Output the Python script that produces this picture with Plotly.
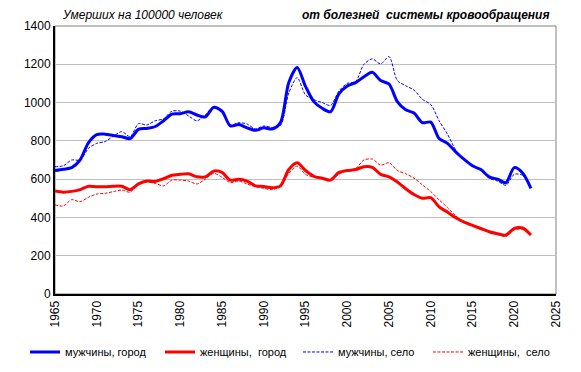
import plotly.graph_objects as go

years = list(range(1965, 2023))

men_city = [645, 652, 660, 700, 790, 833, 835, 828, 822, 812,
            860, 865, 875, 905, 940, 942, 952, 935, 925, 975,
            955, 878, 885, 868, 855, 868, 862, 895, 1105, 1183,
            1085, 1005, 970, 952, 1045, 1087, 1104, 1135, 1158, 1115,
            1097, 1005, 962, 945, 895, 898, 812, 787, 742, 703,
            670, 650, 612, 600, 582, 660, 632, 552]

women_city = [538, 532, 536, 545, 563, 560, 560, 563, 563, 545,
              575, 590, 588, 602, 620, 625, 628, 612, 612, 642,
              635, 595, 600, 590, 565, 562, 555, 565, 650, 685,
              645, 615, 605, 595, 635, 645, 650, 665, 662, 625,
              612, 585, 550, 520, 500, 503, 455, 428, 398, 375,
              358, 342, 325, 315, 308, 343, 345, 308]

men_rural = [665, 670, 700, 700, 760, 787, 796, 825, 848, 822,
             890, 883, 905, 915, 955, 955, 930, 905, 935, 978,
             945, 883, 895, 888, 862, 878, 870, 880, 1050, 1130,
             1040, 1015, 1000, 985, 1060, 1100, 1110, 1200, 1228, 1202,
             1240, 1115, 1088, 1065, 1017, 990, 905, 835, 752, 700,
             670, 645, 605, 590, 568, 625, 620, 555]

women_rural = [465, 460, 493, 482, 505, 522, 526, 535, 543, 532,
               580, 585, 578, 565, 595, 595, 590, 575, 600, 630,
               610, 582, 590, 575, 560, 552, 545, 565, 630, 668,
               625, 610, 603, 598, 625, 645, 655, 700, 705, 673,
               686, 645, 628, 605, 570, 535, 492, 452, 408, 375,
               358, 340, 322, 312, 300, 335, 338, 308]

x_ticks = list(range(1965, 2026, 5))
y_ticks = list(range(0, 1401, 200))

BLUE = "#0000FF"
RED = "#FF0000"
FONT = "Liberation Sans, Arial, sans-serif"
W, H = 573, 364

fig = go.Figure()
fig.add_trace(go.Scatter(x=years, y=men_city, name="мужчины, город", mode="lines", legend="legend",
                         line=dict(color=BLUE, width=3, shape="spline", smoothing=0.8)))
fig.add_trace(go.Scatter(x=years, y=women_city, name="женщины,  город", mode="lines", legend="legend2",
                         line=dict(color=RED, width=3, shape="spline", smoothing=0.8)))
fig.add_trace(go.Scatter(x=years, y=men_rural, name="мужчины, село", mode="lines", legend="legend3",
                         line=dict(color=BLUE, width=1, dash="3px,1.5px", shape="spline", smoothing=0.8)))
fig.add_trace(go.Scatter(x=years, y=women_rural, name="женщины,  село", mode="lines", legend="legend4",
                         line=dict(color=RED, width=1, dash="3px,1.5px", shape="spline", smoothing=0.8)))


def leg(px):
    return dict(orientation="h", xref="container", yref="container",
                x=px / W, xanchor="left", y=0.055, yanchor="middle",
                font=dict(size=11, color="black", family=FONT), itemwidth=30,
                bgcolor="rgba(0,0,0,0)")


fig.update_layout(
    width=W, height=H,
    margin=dict(l=47, r=25, t=18, b=78, autoexpand=False),
    paper_bgcolor="white", plot_bgcolor="white",
    font=dict(family=FONT, size=12, color="black"),
    showlegend=True,
    legend=leg(17), legend2=leg(152), legend3=leg(290), legend4=leg(420),
    shapes=[dict(type="rect", xref="paper", yref="paper", x0=0, x1=1, y0=0, y1=1,
                 line=dict(color="#808080", width=1), layer="below")],
    annotations=[
        dict(text="<i>Умерших на 100000 человек</i>", xref="paper", yref="paper",
             x=0.176, xanchor="center", y=1, yanchor="bottom", yshift=2, showarrow=False,
             font=dict(size=12, family=FONT)),
        dict(text="<b><i>от болезней  системы кровообращения</i></b>", xref="paper", yref="paper",
             x=0.74, xanchor="center", y=1, yanchor="bottom", yshift=2, showarrow=False,
             font=dict(size=12, family=FONT)),
    ],
)
fig.update_xaxes(range=[1965, 2025], tickvals=x_ticks, ticktext=[str(v) for v in x_ticks],
                 tickangle=-90, showgrid=False, zeroline=False, automargin=False,
                 showline=True, linecolor="black", linewidth=2, ticks="", tickfont=dict(size=12))
fig.update_yaxes(range=[0, 1400], tickvals=y_ticks, ticktext=[str(v) for v in y_ticks],
                 showgrid=True, gridcolor="#c0c0c0", gridwidth=1, zeroline=False, automargin=False,
                 showline=True, linecolor="black", linewidth=2, ticks="", tickfont=dict(size=12))

fig.write_html("out.html")
